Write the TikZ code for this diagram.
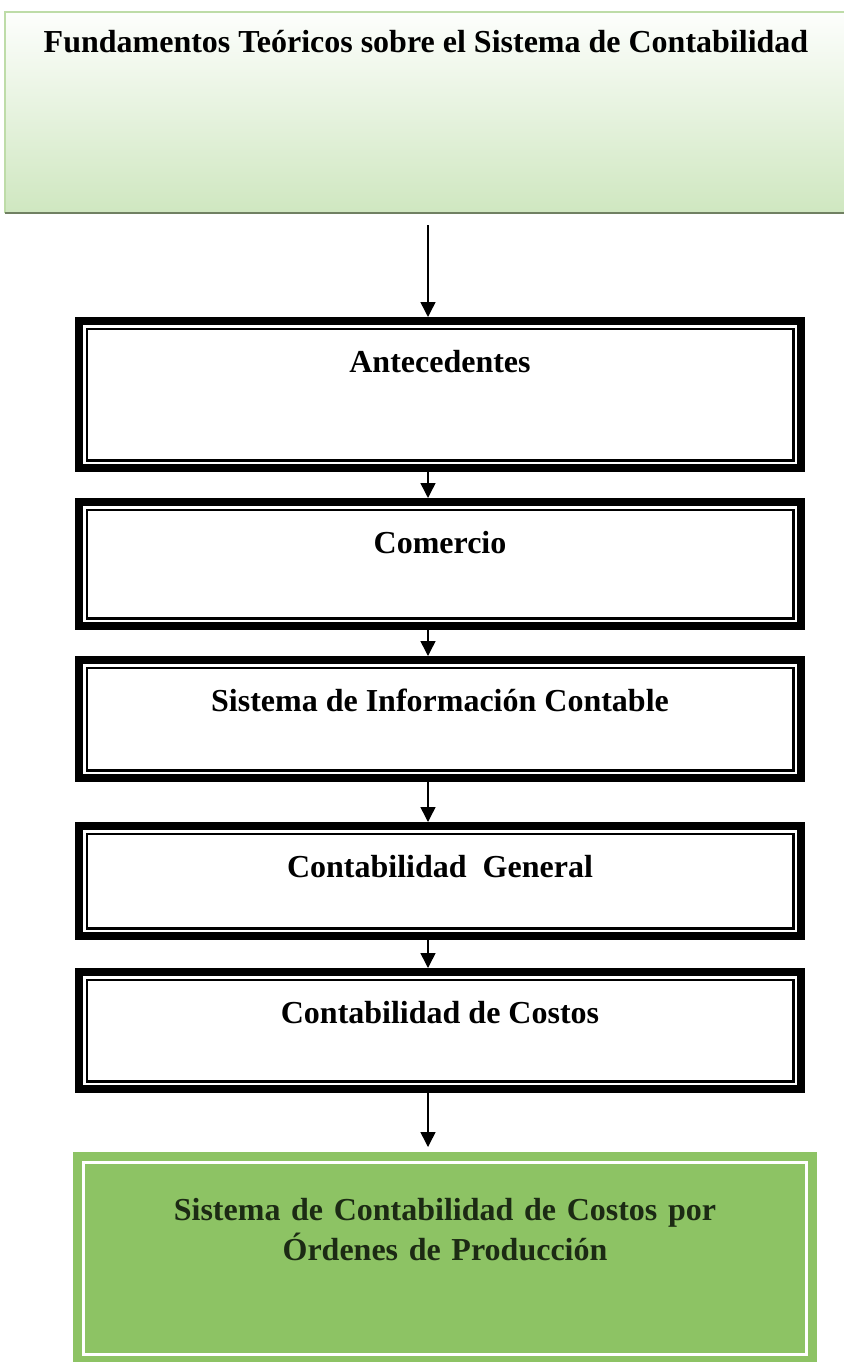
\documentclass[tikz,border=0pt]{standalone}
\usepackage{fontspec}
\setmainfont{Liberation Serif}
\usetikzlibrary{arrows.meta}

\definecolor{verdeclaro}{RGB}{207,231,192}
\definecolor{verdeborde}{RGB}{190,220,168}
\definecolor{verdelinea}{RGB}{112,128,98}
\definecolor{verdeorden}{RGB}{141,195,100}
\definecolor{textoverde}{RGB}{28,42,20}

\tikzset{
  titulo/.style={anchor=north, minimum width=842pt, inner sep=0pt, text height=40pt, text depth=161pt,
    top color=white!96!verdeclaro, bottom color=verdeclaro, font=\fontsize{32}{40}\selectfont\bfseries},
  etapa/.style={draw, line width=8pt, anchor=north, minimum width=722pt, inner sep=0pt,
    text height=51pt, text depth=#1, font=\fontsize{32}{40}\selectfont\bfseries,
    path picture={\draw[line width=2.5pt] ([shift={(7.75pt,-7.75pt)}]path picture bounding box.north west) rectangle ([shift={(-7.75pt,7.75pt)}]path picture bounding box.south east);}},
  orden/.style={anchor=north, fill=verdeorden, text=textoverde, text width=744pt, align=center, inner sep=0pt,
    text height=68pt, text depth=145pt, font=\fontsize{32}{40}\selectfont\bfseries,
    path picture={\draw[white, line width=3.5pt] ([shift={(10.5pt,-10.5pt)}]path picture bounding box.north west) rectangle ([shift={(-10.5pt,10.5pt)}]path picture bounding box.south east);}},
  flecha/.style={-{Triangle[width=15pt,length=15pt]}, line width=1.5pt}
}

\begin{document}
\begin{tikzpicture}[x=1pt, y=-1pt]
    \path[fill=white, use as bounding box] (0,0) rectangle (843,1362);

    \coordinate (eje) at (428,0);

    \node[titulo] (fundamentos) at (426,12) {Fundamentos Teóricos sobre el Sistema de Contabilidad};
    \draw[verdeborde, line width=2pt] (fundamentos.south west) -- (fundamentos.north west) -- (fundamentos.north east);
    \draw[verdelinea, line width=2pt] (fundamentos.south west) -- (fundamentos.south east);

    \node[etapa=96pt] (antecedentes) at (440,317) {Antecedentes};
    \node[etapa=73pt] (comercio) at (440,498) {Comercio};
    \node[etapa=67pt] (informacion) at (440,656) {Sistema de Información Contable};
    \node[etapa=59pt] (general) at (440,822) {Contabilidad\ \ General};
    \node[etapa=66pt] (costos) at (440,968) {Contabilidad de Costos};

    \node[orden] (ordenes) at (445,1152) {Sistema de Contabilidad de Costos por\\Órdenes de Producción};

    \draw[flecha, shorten <=12pt] (fundamentos.south -| eje) -- (antecedentes.north -| eje);
    \draw[flecha] (antecedentes.south -| eje) -- (comercio.north -| eje);
    \draw[flecha] (comercio.south -| eje) -- (informacion.north -| eje);
    \draw[flecha] (informacion.south -| eje) -- (general.north -| eje);
    \draw[flecha] (general.south -| eje) -- (costos.north -| eje);
    \draw[flecha, shorten >=5pt] (costos.south -| eje) -- (ordenes.north -| eje);

\end{tikzpicture}
\end{document}
